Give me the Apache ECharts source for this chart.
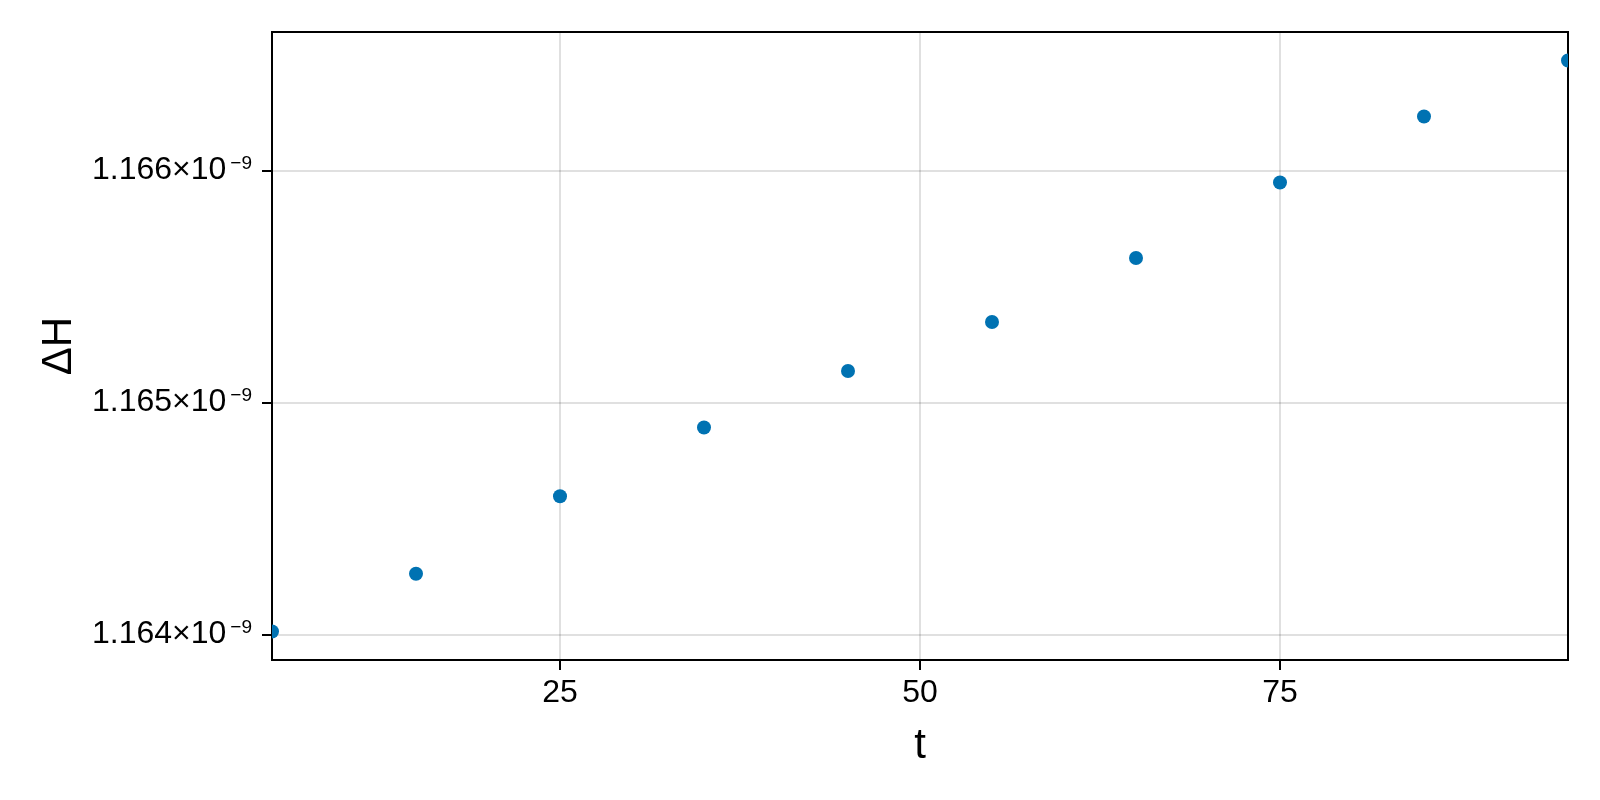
<!DOCTYPE html>
<html>
<head>
<meta charset="utf-8">
<script src="https://cdn.jsdelivr.net/npm/echarts@6/dist/echarts.min.js"></script>
<style>
html,body{margin:0;padding:0;background:#fff;}
#chart{width:1600px;height:800px;}
</style>
</head>
<body>
<div id="chart"></div>
<script>
// Data
const tValues = [5, 15, 25, 35, 45, 55, 65, 75, 85, 95];
const dHValues = [1.164013e-9, 1.164262e-9, 1.164596e-9, 1.164892e-9, 1.165136e-9,
                  1.165347e-9, 1.165623e-9, 1.165948e-9, 1.166233e-9, 1.166474e-9];
const xTicks = [25, 50, 75];
const yTicks = [1.164e-9, 1.165e-9, 1.166e-9];
const xLimits = [5, 95];
const yLimits = [1.163890e-9, 1.166597e-9];

const FONT = 'Liberation Sans, Arial, Helvetica, sans-serif';
const chart = echarts.init(document.getElementById('chart'), null, {renderer: 'canvas'});

const option = {
  backgroundColor: '#ffffff',
  animation: false,
  grid: {
    left: 272, right: 32, top: 32, bottom: 140,
    show: true, borderColor: '#000000', borderWidth: 2, backgroundColor: 'transparent'
  },
  xAxis: {
    type: 'value',
    min: xLimits[0], max: xLimits[1],
    name: 't',
    nameLocation: 'middle',
    nameGap: 65,
    nameTextStyle: {fontSize: 42, fontFamily: FONT, color: '#000'},
    axisLine: {show: true, onZero: false, lineStyle: {color: '#000', width: 2}},
    axisTick: {show: true, inside: false, length: 10, lineStyle: {color: '#000', width: 2}, customValues: xTicks},
    axisLabel: {show: true, margin: 17, fontSize: 32, fontFamily: FONT, color: '#000', customValues: xTicks},
    splitLine: {show: true, lineStyle: {color: 'rgba(0,0,0,0.12)', width: 2}}
  },
  yAxis: {
    type: 'value',
    min: yLimits[0], max: yLimits[1],
    name: 'ΔH',
    nameLocation: 'middle',
    nameGap: 192,
    nameTextStyle: {fontSize: 42, fontFamily: FONT, color: '#000'},
    axisLine: {show: true, onZero: false, lineStyle: {color: '#000', width: 2}},
    axisTick: {show: true, inside: false, length: 10, lineStyle: {color: '#000', width: 2}, customValues: yTicks},
    axisLabel: {
      show: true, margin: 20, color: '#000', customValues: yTicks,
      formatter: function (v) {
        return '{m|' + (v * 1e9).toFixed(3) + '×10}{s|−9}';
      },
      rich: {
        m: {fontSize: 32, fontFamily: FONT, color: '#000', lineHeight: 32},
        s: {fontSize: 19, fontFamily: FONT, color: '#000', verticalAlign: 'top', lineHeight: 21, padding: [0, 0, 0, 4]}
      }
    },
    splitLine: {show: true, lineStyle: {color: 'rgba(0,0,0,0.12)', width: 2}}
  },
  series: [{
    type: 'custom',
    clip: true,
    data: tValues.map(function (t, i) { return [t, dHValues[i]]; }),
    renderItem: function (params, api) {
      const p = api.coord([api.value(0), api.value(1)]);
      return {
        type: 'circle',
        shape: {cx: p[0], cy: p[1], r: 7},
        style: {fill: '#0072b2'}
      };
    }
  }]
};
chart.setOption(option);
</script>
</body>
</html>
